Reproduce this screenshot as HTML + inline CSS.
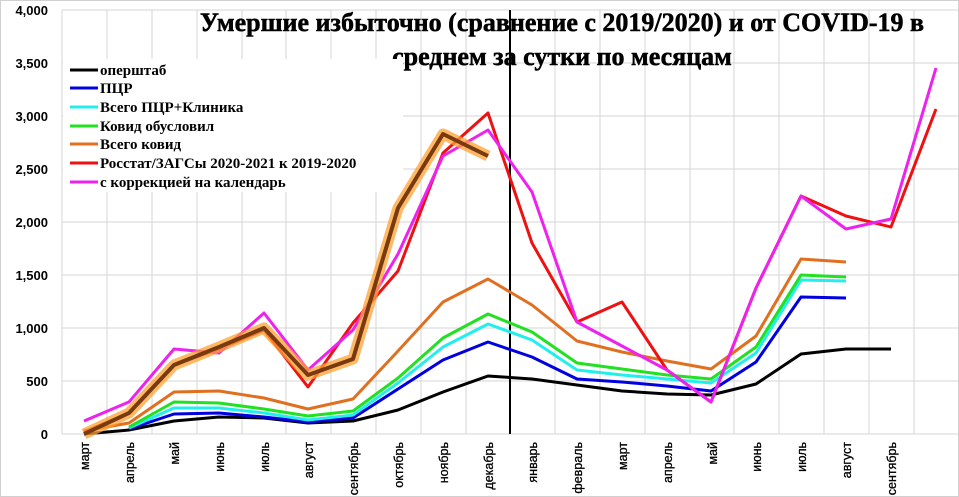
<!DOCTYPE html>
<html><head><meta charset="utf-8"><style>
html,body{margin:0;padding:0;background:#fff}
svg{display:block}
</style></head><body>
<svg width="959" height="497" viewBox="0 0 959 497" xmlns="http://www.w3.org/2000/svg">
<rect x="0.5" y="0.5" width="958" height="496" fill="#fff" stroke="#d0d0d0"/>
<g stroke="#d4d4d4" stroke-width="1">
<line x1="62" y1="10" x2="958" y2="10"/><line x1="62" y1="63" x2="958" y2="63"/><line x1="62" y1="116" x2="958" y2="116"/><line x1="62" y1="169" x2="958" y2="169"/><line x1="62" y1="222" x2="958" y2="222"/><line x1="62" y1="275" x2="958" y2="275"/><line x1="62" y1="328" x2="958" y2="328"/><line x1="62" y1="381" x2="958" y2="381"/>
<line x1="62" y1="10" x2="62" y2="434"/>
<line x1="107" y1="10" x2="107" y2="434"/><line x1="152" y1="10" x2="152" y2="434"/><line x1="197" y1="10" x2="197" y2="434"/><line x1="242" y1="10" x2="242" y2="434"/><line x1="286" y1="10" x2="286" y2="434"/><line x1="331" y1="10" x2="331" y2="434"/><line x1="376" y1="10" x2="376" y2="434"/><line x1="421" y1="10" x2="421" y2="434"/><line x1="466" y1="10" x2="466" y2="434"/><line x1="555" y1="10" x2="555" y2="434"/><line x1="600" y1="10" x2="600" y2="434"/><line x1="645" y1="10" x2="645" y2="434"/><line x1="690" y1="10" x2="690" y2="434"/><line x1="734" y1="10" x2="734" y2="434"/><line x1="779" y1="10" x2="779" y2="434"/><line x1="824" y1="10" x2="824" y2="434"/><line x1="869" y1="10" x2="869" y2="434"/><line x1="914" y1="10" x2="914" y2="434"/>
<line x1="62" y1="434" x2="958" y2="434"/>
</g>
<line x1="510" y1="10" x2="510" y2="434" stroke="#000" stroke-width="2"/>
<g font-family="Liberation Sans, sans-serif" font-size="13" font-weight="bold" text-anchor="end" fill="#000">
<text x="48" y="15">4,000</text><text x="48" y="68">3,500</text><text x="48" y="121">3,000</text><text x="48" y="174">2,500</text><text x="48" y="227">2,000</text><text x="48" y="280">1,500</text><text x="48" y="333">1,000</text><text x="48" y="386">500</text><text x="48" y="439">0</text>
</g>
<g font-family="Liberation Sans, sans-serif" font-size="12.5" text-anchor="end" fill="#000" stroke="#000" stroke-width="0.3">
<text transform="translate(89,442) rotate(-90)">март</text>
<text transform="translate(134,442) rotate(-90)">апрель</text>
<text transform="translate(179,442) rotate(-90)">май</text>
<text transform="translate(224,442) rotate(-90)">июнь</text>
<text transform="translate(269,442) rotate(-90)">июль</text>
<text transform="translate(313,442) rotate(-90)">август</text>
<text transform="translate(358,442) rotate(-90)">сентябрь</text>
<text transform="translate(403,442) rotate(-90)">октябрь</text>
<text transform="translate(448,442) rotate(-90)">ноябрь</text>
<text transform="translate(493,442) rotate(-90)">декабрь</text>
<text transform="translate(537,442) rotate(-90)">январь</text>
<text transform="translate(582,442) rotate(-90)">февраль</text>
<text transform="translate(627,442) rotate(-90)">март</text>
<text transform="translate(672,442) rotate(-90)">апрель</text>
<text transform="translate(717,442) rotate(-90)">май</text>
<text transform="translate(761,442) rotate(-90)">июнь</text>
<text transform="translate(806,442) rotate(-90)">июль</text>
<text transform="translate(851,442) rotate(-90)">август</text>
<text transform="translate(896,442) rotate(-90)">сентябрь</text>
</g>
<g font-family="Liberation Serif, serif" font-size="26" font-weight="bold" text-anchor="middle" fill="#000" stroke="#000" stroke-width="0.5">
<text x="562" y="31">Умершие избыточно (сравнение с 2019/2020) и от COVID-19 в</text>
<text x="562" y="65">среднем за сутки по месяцам</text>
</g>
<rect x="63" y="59" width="340" height="133" fill="#fff"/>
<g fill="none" stroke-linejoin="round" stroke-width="3">
<polyline stroke="#e07020" stroke-width="3" points="84,431 129,423 174,392 219,391 264,398 308,409 353,399 398,351 443,302 488,279 532,305 577,341 622,352 667,361 711,369 756,336 801,259 846,262"/>
<polyline stroke="#000" points="84,434 129,430 174,421 219,417 264,418 308,423 353,421 398,410 443,392 488,376 532,379 577,385 622,391 667,394 711,395 756,384 801,354 846,349 891,349"/>
<polyline stroke="#0000e0" points="129,429 174,414 219,413 264,417 308,422 353,418 398,389 443,360 488,342 532,357 577,379 622,382 667,386 711,391 756,362 801,297 846,298"/>
<polyline stroke="#22eeee" points="129,428 174,408 219,408 264,413 308,420 353,415 398,383 443,347 488,324 532,340 577,370 622,375 667,379 711,383 756,353 801,280 846,281"/>
<polyline stroke="#22e022" points="129,427 174,402 219,403 264,409 308,416 353,411 398,378 443,338 488,314 532,332 577,363 622,369 667,375 711,379 756,347 801,275 846,277"/>
<polyline stroke="#ee1111" points="84,432 129,413 174,365 219,349 264,330 308,387 353,323 398,271 443,153 488,113 532,243 577,322 622,302 667,370 711,402 756,288 801,196 846,216 891,227 936,109"/>
<polyline stroke="#ee22ee" points="84,421 129,402 174,349 219,353 264,313 308,370 353,330 398,254 443,156 488,130 532,192 577,322 622,346 667,370 711,402 756,288 801,196 846,229 891,219 936,68"/>
</g>
<polyline fill="none" stroke="#ffa030" stroke-opacity="0.75" stroke-width="11" stroke-linejoin="round" points="84,434 129,413 174,365 219,347 264,328 308,375 353,359 398,208 443,134 488,156"/>
<polyline fill="none" stroke="#7a3a10" stroke-width="4" stroke-linejoin="round" points="84,434 129,413 174,365 219,347 264,328 308,375 353,359 398,208 443,134 488,156"/>
<g stroke-width="3">
<line x1="70" y1="70" x2="98" y2="70" stroke="#000"/>
<line x1="70" y1="88" x2="98" y2="88" stroke="#0000e0"/>
<line x1="70" y1="107" x2="98" y2="107" stroke="#22eeee"/>
<line x1="70" y1="126" x2="98" y2="126" stroke="#22e022"/>
<line x1="70" y1="144" x2="98" y2="144" stroke="#e07020"/>
<line x1="70" y1="163" x2="98" y2="163" stroke="#ee1111"/>
<line x1="70" y1="182" x2="98" y2="182" stroke="#ee22ee"/>
</g>
<g font-family="Liberation Serif, serif" font-size="15" font-weight="bold" fill="#000">
<text x="100" y="75">оперштаб</text>
<text x="100" y="93">ПЦР</text>
<text x="100" y="112">Всего ПЦР+Клиника</text>
<text x="100" y="131">Ковид обусловил</text>
<text x="100" y="149">Всего ковид</text>
<text x="100" y="168">Росстат/ЗАГСы 2020-2021 к 2019-2020</text>
<text x="100" y="187">с коррекцией на календарь</text>
</g>
</svg>
</body></html>
